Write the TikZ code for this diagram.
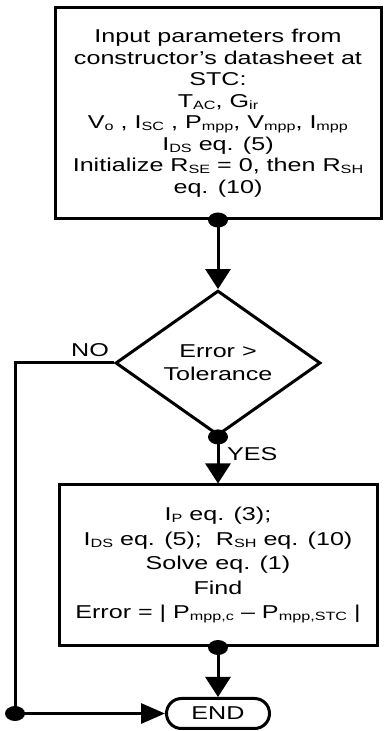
\documentclass[tikz,border=0pt]{standalone}
\usepackage{fontspec}
\setmainfont{Liberation Sans}[FakeStretch=1.35]
\usetikzlibrary{arrows.meta,shapes.geometric}
\newcommand{\lo}[1]{\raisebox{-2pt}{\fontsize{12}{12}\selectfont #1}}

\begin{document}
\begin{tikzpicture}[x=1pt,y=1pt,
  flow/.style={line width=3pt,-{Triangle[length=20pt,width=25pt]}},
  stepbox/.style={draw,line width=3pt,inner sep=0pt,align=center},
  label/.style={inner sep=0pt,font=\fontsize{18.6}{20}\selectfont}]
\useasboundingbox (0,0) rectangle (383,731);

% Input box
\node[stepbox,minimum width=326,minimum height=211,font=\fontsize{18.6}{21.5}\selectfont] (input) at (218,618) {Input parameters from\\
constructor’s datasheet at\\
STC:\\
T\lo{AC}, G\lo{ir}\\
V\lo{o} , I\lo{SC} , P\lo{mpp}, V\lo{mpp}, I\lo{mpp}\\
I\lo{DS} eq. (5)\\
Initialize R\lo{SE} = 0, then R\lo{SH}\\
eq. (10)};

% Decision
\node[draw,diamond,line width=3pt,inner sep=0pt,minimum width=205,minimum height=125,align=center,font=\fontsize{18.6}{23}\selectfont] (check) at (218,368) {Error >\\Tolerance};

% Update box
\node[stepbox,minimum width=318,minimum height=161,font=\fontsize{18.6}{24.5}\selectfont] (update) at (218,165.5) {I\lo{P} eq. (3);\\
I\lo{DS} eq. (5);\ \ R\lo{SH}\ eq. (10)\\
Solve eq. (1)\\
Find\\
Error = | P\lo{mpp,c} – P\lo{mpp,STC} |};

% End
\node[draw,line width=3pt,rounded corners=15,minimum width=103,minimum height=30,inner sep=0pt,font=\fontsize{18.6}{20}\selectfont] (end) at (218,17.5) {END};
\coordinate (turn) at (15,17.5);

% Connectors
\draw[flow] (input.south) -- (check.north);
\draw[flow] (check.south) -- (update.north);
\draw[flow] (update.south) -- (end.north);
\draw[flow,-{Triangle[length=24pt,width=20pt]}] (check.west) -| (turn) -- (end.west);

% Joints
\fill (input.south) ellipse (10 and 7.5);
\fill (check.south) ellipse (10 and 7.5);
\fill (update.south) ellipse (10 and 7.5);
\fill (turn) ellipse (10 and 7.5);

% Labels
\node[label,anchor=south east] (no) at ([xshift=-5,yshift=6]check.west) {NO};
\node[label,anchor=north west] (yes) at ([xshift=9,yshift=-10]check.south) {YES};

\end{tikzpicture}
\end{document}
